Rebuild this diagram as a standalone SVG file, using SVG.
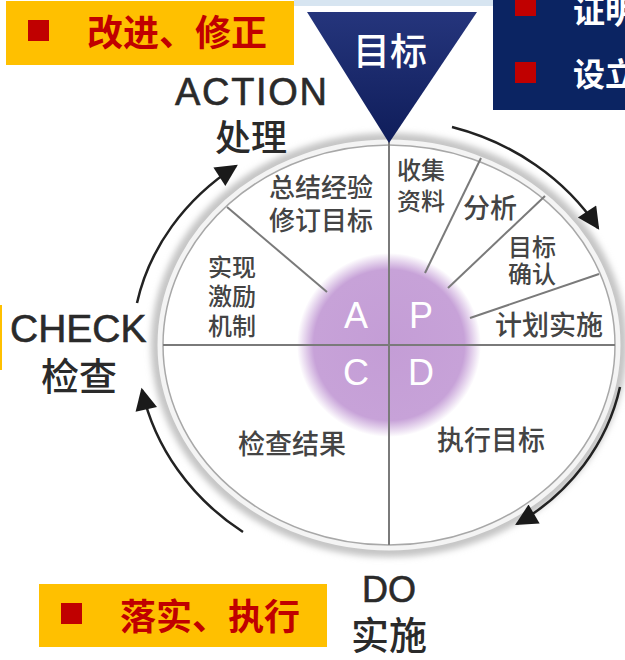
<svg xmlns="http://www.w3.org/2000/svg" width="625" height="660" viewBox="0 0 625 660">
<defs>
  <style>
    .box-y { fill: #FFC000; }
    .sq { fill: #C00000; }
    .bt { font-family: "Noto Sans CJK SC", sans-serif; font-weight: bold; font-size: 36px; fill: #C00000; }
    .wt { font-family: "Noto Sans CJK SC", sans-serif; font-weight: bold; font-size: 32px; fill: #ffffff; }
    .in { font-family: "Noto Sans CJK SC", sans-serif; font-weight: 500; fill: #444444; }
    .out { font-family: "Liberation Sans", "Noto Sans CJK SC", sans-serif; fill: #2a2a2a; stroke: #2a2a2a; stroke-width: 0.6; }
    .outc { font-family: "Noto Sans CJK SC", sans-serif; font-weight: 500; fill: #2a2a2a; }
    .ltr { font-family: "Liberation Sans", sans-serif; font-size: 36px; fill: #ffffff; text-anchor: middle; }
    .div { stroke: #7a7a7a; stroke-width: 2; fill: none; }
    .arr { stroke: #222222; stroke-width: 2.5; fill: none; marker-end: url(#ah); }
  </style>
  <marker id="ah" viewBox="0 0 10 10" refX="9" refY="5" markerUnits="userSpaceOnUse" markerWidth="28" markerHeight="22" orient="auto">
    <path d="M0,0 L10,5 L0,10 z" fill="#1a1a1a"/>
  </marker>
  <radialGradient id="pg" cx="0.5" cy="0.5" r="0.5">
    <stop offset="0" stop-color="#c49dd6"/>
    <stop offset="0.82" stop-color="#c7a2d8"/>
    <stop offset="1" stop-color="#c7a2d8" stop-opacity="0"/>
  </radialGradient>
  <linearGradient id="tg" x1="0" y1="0" x2="0" y2="1">
    <stop offset="0" stop-color="#25357c"/>
    <stop offset="1" stop-color="#0f1d5a"/>
  </linearGradient>
  <filter id="blur" x="-10%" y="-10%" width="120%" height="120%">
    <feGaussianBlur stdDeviation="3"/>
  </filter>
</defs>

<rect x="0" y="0" width="625" height="660" fill="#ffffff"/>
<rect x="294" y="0" width="200" height="6" fill="#d7e5f1"/>
<rect x="0" y="305" width="2" height="65" fill="#FFC000"/>

<g id="wheel">
  <ellipse cx="389" cy="345" rx="232" ry="206" fill="none" stroke="#c4c4c4" stroke-width="12" filter="url(#blur)"/>
  <ellipse cx="389" cy="345" rx="229" ry="203" fill="#ffffff" stroke="#f4f4f4" stroke-width="5"/>
  <ellipse cx="389" cy="345" rx="226" ry="200" fill="#ffffff" stroke="#a8a8a8" stroke-width="1.5"/>
  <circle cx="389" cy="345" r="92" fill="url(#pg)"/>
</g>

<g id="dividers">
  <line class="div" x1="389" y1="140" x2="389" y2="545"/>
  <line class="div" x1="163" y1="345" x2="615" y2="345"/>
  <line class="div" x1="425" y1="273" x2="481" y2="158"/>
  <line class="div" x1="448" y1="288" x2="545" y2="196"/>
  <line class="div" x1="470" y1="318" x2="599" y2="274"/>
  <line class="div" x1="327" y1="292" x2="227" y2="207"/>
</g>

<g id="letters">
  <text class="ltr" x="356" y="328">A</text>
  <text class="ltr" x="421" y="328">P</text>
  <text class="ltr" x="356" y="385">C</text>
  <text class="ltr" x="421" y="385">D</text>
</g>

<g id="goal-triangle">
  <polygon points="307,12 477,12 389,143" fill="url(#tg)"/>
  <text x="390" y="65" font-family="Noto Sans CJK SC, sans-serif" font-size="37" font-weight="500" fill="#ffffff" text-anchor="middle">目标</text>
</g>

<g id="plan-items">
  <text class="in" x="397" y="179" font-size="24">收集</text>
  <text class="in" x="397" y="210" font-size="24">资料</text>
  <text class="in" x="463" y="218" font-size="27">分析</text>
  <text class="in" x="508" y="256" font-size="24">目标</text>
  <text class="in" x="508" y="283" font-size="24">确认</text>
  <text class="in" x="495" y="335" font-size="27">计划实施</text>
</g>
<g id="action-items">
  <text class="in" x="269" y="197" font-size="26">总结经验</text>
  <text class="in" x="269" y="230" font-size="26">修订目标</text>
  <text class="in" x="208" y="276" font-size="24">实现</text>
  <text class="in" x="208" y="305" font-size="24">激励</text>
  <text class="in" x="208" y="335" font-size="24">机制</text>
</g>
<g id="check-items">
  <text class="in" x="238" y="454" font-size="27">检查结果</text>
</g>
<g id="do-items">
  <text class="in" x="437" y="450" font-size="27">执行目标</text>
</g>

<g id="label-action">
  <text class="out" x="251" y="105" font-size="38" text-anchor="middle" textLength="152">ACTION</text>
  <text class="outc" x="251" y="151" font-size="36" text-anchor="middle">处理</text>
</g>
<g id="label-check">
  <text class="out" x="10" y="342" font-size="39">CHECK</text>
  <text class="outc" x="79" y="390" font-size="38" text-anchor="middle">检查</text>
</g>
<g id="label-do">
  <text class="out" x="389" y="602" font-size="36" text-anchor="middle">DO</text>
  <text class="outc" x="389" y="649" font-size="38" text-anchor="middle">实施</text>
</g>

<g id="connectors">
  <path class="arr" d="M452,127 A250,226 0 0 1 598,228"/>
  <path class="arr" d="M620,387 A236,213 0 0 1 517,524"/>
  <path class="arr" d="M243,532 A251,230 0 0 1 142,390"/>
  <path class="arr" d="M137,303 A256,224 0 0 1 236,166"/>
</g>

<g id="box-improve">
  <rect class="box-y" x="6" y="1" width="288" height="64"/>
  <rect class="sq" x="28" y="20" width="21" height="21"/>
  <text class="bt" x="87" y="46">改进、修正</text>
</g>

<g id="box-execute">
  <rect class="box-y" x="39" y="584" width="288" height="63"/>
  <rect class="sq" x="61" y="603" width="21" height="21"/>
  <text class="bt" x="120" y="630">落实、执行</text>
</g>

<g id="box-goal">
  <rect x="493" y="0" width="132" height="110" fill="#0b2462"/>
  <rect class="sq" x="515" y="0" width="21" height="16"/>
  <rect class="sq" x="515" y="62" width="21" height="21"/>
  <text class="wt" x="573" y="23">证明</text>
  <text class="wt" x="573" y="86">设立</text>
</g>
</svg>
